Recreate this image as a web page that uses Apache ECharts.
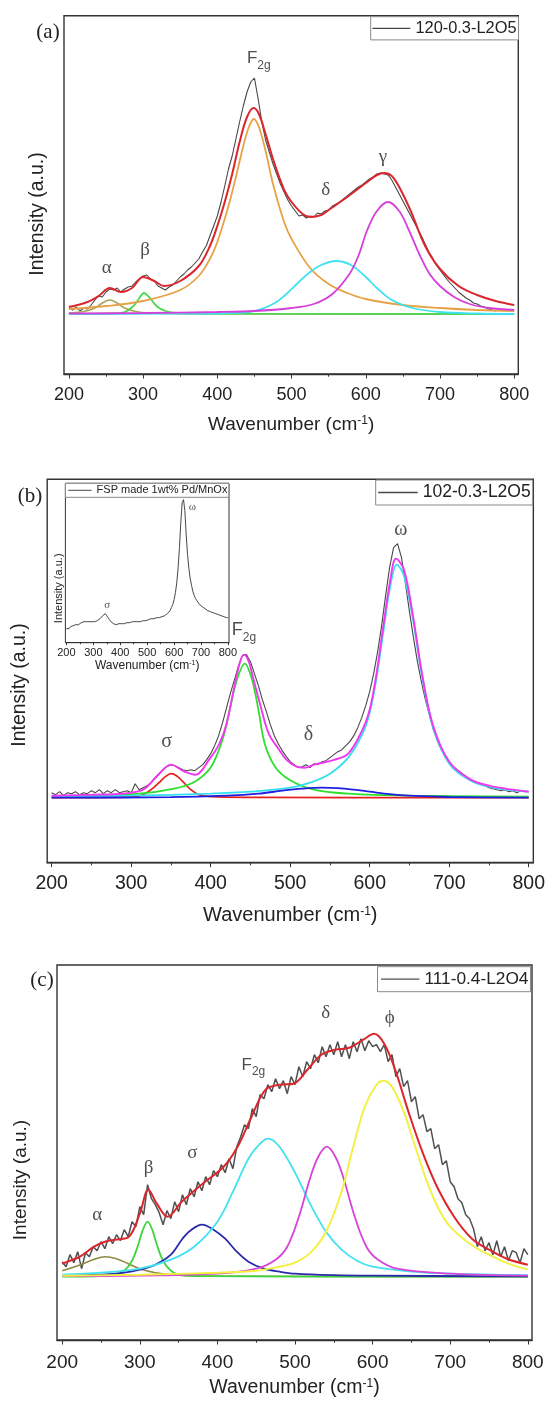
<!DOCTYPE html>
<html><head><meta charset="utf-8">
<script src="https://cdn.jsdelivr.net/npm/echarts@6/dist/echarts.min.js"></script>
<style>html,body{margin:0;padding:0;background:#fff}#c{width:548px;height:1404px}</style>
</head><body><div id="c"></div>
<script>
// ---------- ticks ----------
const majorTicks = [200, 300, 400, 500, 600, 700, 800];
const minorTicks = [250, 350, 450, 550, 650, 750];
const rawStart = 200, rawStep = 5;

// ---------- panel (a) ----------
const legendA = '120-0.3-L2O5';
const rawA = [6,4,7,3,6,5,9,14,18,17,22,25,24,26,22,25,27,28,32,35,38,39,35,33,28,26,24,27,29,33,37,40,44,47,51,55,62,68,78,88,98,112,128,145,158,175,192,208,222,232,236,215,192,174,162,150,140,130,122,114,108,103,98,99,96,98,97,101,100,103,104,108,110,112,115,118,121,124,127,129,132,135,137,140,141,140,139,134,127,120,113,106,99,92,85,78,70,62,56,49,44,39,34,30,26,22,19,16,14,11,10,8,7,5,4,3];
const fitA = [[200,7],[225,12],[240,18],[255,26],[270,22],[285,26],[300,37],[315,33],[328,28],[350,33],[375,48],[390,68],[400,88],[410,112],[420,140],[430,172],[440,197],[449,206],[456,200],[465,180],[475,155],[490,124],[500,112],[515,100],[525,97],[540,99],[550,104],[575,117],[600,131],[615,139],[625,141],[635,138],[645,127],[660,104],[680,68],[700,45],[725,28],[750,19],[775,13],[800,9]];
const orangeA = [[200,5],[250,8],[300,13],[350,24],[375,38],[390,55],[400,72],[415,108],[425,137],[435,168],[442,186],[449,195],[456,187],[465,163],[475,130],[490,92],[500,75],[525,46],[550,30],[575,21],[600,15],[650,9],[700,6],[750,4],[800,3]];
const cyanA = [[200,0],[350,0.3],[420,1],[450,3],[475,10],[490,18],[507,30],[525,42],[540,49],[560,53],[580,49],[600,37],[615,26],[635,14],[663,6],[700,2],[750,0.5],[800,0]];
const magentaA = [[200,0.5],[300,1],[400,2],[450,3],[500,6],[530,10],[555,20],[578,40],[590,58],[602,84],[615,103],[630,112],[645,103],[658,84],[672,60],[686,40],[700,28],[719,17],[740,10],[766,6],[800,4]];
const oliveA = [[200,1],[220,2.5],[235,6],[245,11],[255,14],[265,11],[275,6],[290,2.5],[310,1],[350,0.3],[800,0]];
const greenA = [[200,0],[260,0.5],[275,2],[287,8],[295,16],[301,21],[308,17],[318,8],[330,3],[345,1],[380,0.3],[800,0]];
const peaksA = [['α',251,46],['β',302.7,64],['{f|F}{s|2g}',455.8,255.7],['δ',546.2,124],['γ',623,157.3]];

// ---------- panel (b) ----------
const legendB = '102-0.3-L2O5';
const rawB = [5,3,6,2,5,4,6,3,5,4,7,5,8,4,7,5,8,5,6,7,5,14,8,10,12,15,20,24,28,31,33,32,30,28,27,28,27,30,33,38,44,52,62,75,90,105,118,132,142,143,136,124,112,98,86,73,62,54,47,41,36,33,30,31,33,30,34,33,36,37,40,43,46,48,52,56,62,70,80,92,106,124,146,172,202,230,250,254,240,214,186,160,136,116,98,83,68,57,48,42,36,31,28,25,22,19,17,15,13,12,10,9,8,7,8,6,7,5,7,6,6];
const fitB = [[200,2],[250,3],[289,4],[315,8],[332,21],[350,33],[367,26],[381,23],[398,38],[411,54],[420,74],[429,108],[437,136],[442,143],[448,136],[453,121],[462,94],[473,64],[486,48],[495,38],[508,31],[518,30],[530,33],[556,38],[573,44],[591,68],[600,88],[608,121],[617,171],[626,218],[633,239],[643,228],[654,184],[665,128],[679,74],[700,36],[727,18],[750,12],[771,9],[800,6]];
const greenB = [[200,1],[310,4],[354,9],[380,16],[398,28],[407,41],[416,61],[424,88],[433,118],[443,134],[452,118],[460,88],[468,54],[481,31],[499,18],[530,8],[573,4],[650,2],[800,1]];
const redB = [[200,0],[300,0.5],[315,3],[325,8],[335,15],[343,21],[350,24],[357,22],[365,16],[375,8],[385,3],[400,1],[450,0.3],[800,0]];
const blueB = [[200,0],[350,0.5],[420,2],[460,4],[490,7],[515,9],[540,10],[560,9.5],[580,8],[600,6],[625,3.5],[650,2],[700,0.7],[800,0]];
const cyanB = [[200,1],[300,2],[400,4],[450,6],[500,10],[525,15],[550,24],[573,40],[591,64],[600,85],[608,117],[617,165],[626,212],[634,233],[643,222],[654,180],[665,125],[679,72],[700,34],[727,17],[750,11],[771,8],[800,6]];
const peaksB = [['σ',344.6,56],['{f|F}{s|2g}',441.9,167.7],['δ',523,62.7],['ω',639,268.3]];

// ---------- inset of (b) ----------
const legendInset = 'FSP made 1wt% Pd/MnOx';
const rawInset = [14,15,14,16,16,17,17,18,19,18,19,20,19,21,20,21,22,21,22,21,22,21,22,22,23,24,25,27,28,29,27,25,23,21,20,19,19,18,18,19,18,19,18,19,19,20,19,20,20,21,20,21,21,21,22,21,22,22,23,22,22,23,23,24,23,24,24,25,24,25,25,26,26,27,28,29,30,32,35,38,43,50,60,75,95,120,140,143,132,108,88,74,64,57,51,47,44,42,40,38,37,36,35,34,33,32,32,31,30,30,29,29,28,28,27,27,26,26,25,25,25];
const peaksInset = [['σ',352,37.7],['ω',667.5,136]];

// ---------- panel (c) ----------
const legendC = '111-0.4-L2O4';
const rawC = [15,10,22,14,25,8,24,20,30,26,35,28,40,33,42,36,47,40,55,50,70,62,92,78,72,64,52,66,58,75,65,82,72,88,80,95,86,100,92,106,100,112,104,118,108,130,140,152,148,168,160,182,178,192,185,198,188,196,183,200,192,210,200,215,208,222,214,230,220,232,222,235,220,232,218,235,225,238,226,236,230,232,225,232,215,222,200,208,190,196,175,180,158,162,145,148,128,132,112,116,95,90,78,74,62,58,48,30,40,26,34,22,36,20,30,16,26,24,14,28,22];
const fitC = [[200,13],[210,16],[223,20],[241,30],[255,35],[268,37],[286,40],[300,63],[311,87],[322,73],[336,60],[354,75],[381,93],[408,110],[426,130],[444,160],[462,187],[480,192],[498,193],[516,207],[534,222],[552,227],[570,229],[588,237],[602,243],[615,233],[629,207],[647,163],[665,123],[683,90],[705,60],[728,38],[750,27],[773,18],[800,12]];
const oliveC = [[200,6],[220,11],[240,17],[255,20],[270,18],[285,13],[300,8],[320,4],[350,1.5],[400,0.5],[800,0]];
const greenC = [[200,0],[250,0.5],[270,2],[280,6],[290,16],[298,32],[304,47],[310,55],[316,47],[322,32],[330,16],[340,6],[350,2],[380,0.5],[800,0]];
const blueC = [[200,1],[250,2],[280,4],[300,7],[320,12],[340,22],[355,38],[365,46],[380,52],[395,47],[410,38],[425,25],[440,15],[460,8],[480,5],[500,3],[550,1.5],[600,1],[800,0.3]];
const cyanC = [[200,2],[250,4],[300,8],[340,17],[370,30],[400,55],[420,85],[440,118],[455,133],[465,138],[480,130],[500,104],[520,72],[540,45],[560,27],[580,16],[600,10],[650,5],[700,3],[800,1.5]];
const magentaC = [[200,0.5],[300,1],[400,3],[450,8],[475,17],[490,30],[505,60],[520,100],[530,120],[541,130],[552,120],[562,100],[577,60],[592,30],[607,17],[632,8],[700,3],[800,1]];
const yellowC = [[200,1],[300,2],[400,4],[450,6],[480,10],[500,14],[520,24],[540,45],[560,85],[575,130],[590,170],[605,192],[614,196],[625,190],[640,165],[655,130],[670,95],[685,68],[700,50],[725,33],[750,22],[775,13],[800,7]];
const peaksC = [['α',245,61.7],['β',311.3,108.3],['σ',367.6,124],['{f|F}{s|2g}',446.4,211.7],['δ',539.6,263.3],['ϕ',622,259]];

// ---------- build ----------
const SANS = '"Liberation Sans", Arial, sans-serif';
const SERIF = '"Liberation Serif", "Times New Roman", serif';
const INK = '#222';
const toXY = arr => arr.map((v, i) => [rawStart + i * rawStep, v]);

const panels = [
  {grid:{left:64, top:15.7, width:454.3, height:358.3}, x:[193.4,805.5], y:[-60,298.3], fs:18, margin:12, nameFs:19, nameGap:41, tick:4.5},
  {grid:{left:47.2, top:479.3, width:487.6, height:383.4}, x:[194.4,805.8], y:[-65,318.3], fs:19.5, margin:10.5, nameFs:20, nameGap:43, tick:4.5},
  {grid:{left:57, top:965, width:475, height:375}, x:[193.3,805.4], y:[-63.3,311.7], fs:19, margin:13.5, nameFs:19.5, nameGap:38, tick:4.5},
  {grid:{left:65.4, top:483.3, width:163.6, height:159.4}, x:[196.3,804], y:[0,159.3], fs:11, margin:5, nameFs:12, nameGap:17, tick:2.5, inset:true}
];

const grid = [], xAxis = [], yAxis = [];
panels.forEach((p, i) => {
  grid.push(Object.assign({show:true, borderColor:'#333', borderWidth: p.inset ? 1 : 1.4, backgroundColor: p.inset ? '#fff' : 'transparent', containLabel:false, z: p.inset ? 5 : 0}, p.grid));
  xAxis.push({
    type:'value', gridIndex:i, min:p.x[0], max:p.x[1], position:'bottom', z: p.inset ? 6 : 1,
    axisLine:{show:true, onZero:false, lineStyle:{color:'#333', width: p.inset ? 1 : 1.4}},
    axisTick:{show:true, customValues: majorTicks, length:p.tick, lineStyle:{color:'#333', width:1}},
    axisLabel:{show:true, customValues: majorTicks, fontSize:p.fs, fontFamily:SANS, color:INK, margin:p.margin},
    splitLine:{show:false},
    name:'Wavenumber (cm{sup|-1})', nameLocation:'middle', nameGap:p.nameGap,
    nameTextStyle:{fontSize:p.nameFs, fontFamily:SANS, color:INK,
      rich:{sup:{fontSize: Math.round(p.nameFs*0.62), fontFamily:SANS, color:INK, verticalAlign:'top', lineHeight: Math.round(p.nameFs*0.62)}}}
  });
  xAxis.push({
    type:'value', gridIndex:i, min:p.x[0], max:p.x[1], position:'bottom', z: p.inset ? 6 : 1,
    axisLine:{show:false, onZero:false},
    axisTick:{show:true, customValues: minorTicks, length:p.tick*0.6, lineStyle:{color:'#333', width:1}},
    axisLabel:{show:false}, splitLine:{show:false}
  });
  yAxis.push({type:'value', gridIndex:i, min:p.y[0], max:p.y[1], show:false});
});

const series = [];
function line(panel, name, data, color, width, smooth, z) {
  series.push({
    type:'line', name:name, xAxisIndex: panel*2, yAxisIndex: panel, data:data,
    symbol:'none', showSymbol:false, smooth: smooth ? 0.35 : false,
    lineStyle:{color:color, width:width}, itemStyle:{color:color},
    silent:true, animation:false, z: z
  });
}
function peakLabels(panel, arr, fs, fFs) {
  series.push({
    type:'scatter', xAxisIndex: panel*2, yAxisIndex: panel, symbolSize:0, silent:true, animation:false, z:20,
    data: arr.map(a => ({name:a[0], value:[a[1], a[2]]})),
    itemStyle:{color:'rgba(0,0,0,0)'},
    label:{show:true, position:'inside', formatter:'{b}', fontSize:fs, fontFamily:SERIF, color:INK,
      rich:{
        f:{fontSize:fFs, fontFamily:SANS, color:INK, lineHeight: Math.round(fFs*1.5), verticalAlign:'middle'},
        s:{fontSize: Math.round(fFs*0.68), fontFamily:SANS, color:INK, lineHeight: Math.round(fFs*0.68), verticalAlign:'bottom'}
      }}
  });
}

// panel a
line(0, legendA, toXY(rawA), '#474747', 1.1, false, 2);
line(0, 'olive a', oliveA, '#aaa456', 1.6, true, 3);
line(0, 'green a', greenA, '#4ed64e', 1.8, true, 3);
line(0, 'orange a', orangeA, '#e6a246', 1.8, true, 3);
line(0, 'cyan a', cyanA, '#3fe2ee', 1.8, true, 3);
line(0, 'magenta a', magentaA, '#d640da', 1.8, true, 3);
line(0, 'fit a', fitA, '#da262c', 2, true, 4);
peakLabels(0, peaksA, 19, 17);

// panel b
line(1, legendB, toXY(rawB), '#474747', 1.1, false, 2);
line(1, 'red b', redB, '#e82020', 1.7, true, 3);
line(1, 'green b', greenB, '#2ee02e', 1.8, true, 3);
line(1, 'cyan b', cyanB, '#34e0f0', 1.8, true, 3);
line(1, 'blue b', blueB, '#1f1fe0', 1.8, true, 3);
line(1, 'fit b', fitB, '#f038f0', 1.9, true, 4);
peakLabels(1, peaksB, 20, 18);

// panel c
line(2, legendC, toXY(rawC), '#505050', 1.5, false, 2);
line(2, 'olive c', oliveC, '#8e8a42', 1.6, true, 3);
line(2, 'green c', greenC, '#3ed43e', 1.8, true, 3);
line(2, 'blue c', blueC, '#2a2aaa', 1.8, true, 3);
line(2, 'cyan c', cyanC, '#40e2f0', 1.8, true, 3);
line(2, 'magenta c', magentaC, '#d844d8', 1.8, true, 3);
line(2, 'yellow c', yellowC, '#f2f040', 1.9, true, 3);
line(2, 'fit c', fitC, '#da262c', 2, true, 4);
peakLabels(2, peaksC, 19, 17);

// inset
line(3, legendInset, toXY(rawInset), '#474747', 1, false, 10);
peakLabels(3, peaksInset, 11, 11);
series[series.length-1].z = 21;

const legendBase = {orient:'horizontal', selectedMode:false, borderColor:'#888', borderWidth:1, backgroundColor:'#fff', itemGap:0, icon:'rect'};
const legend = [
  Object.assign({}, legendBase, {data:[legendA], left:370.7, top:16.7, itemWidth:38, itemHeight:1.3, padding:[3.6,2,3.6,1.7], textStyle:{fontSize:16.4, fontFamily:SANS, color:INK}}),
  Object.assign({}, legendBase, {data:[legendB], left:375.7, top:480, itemWidth:39.5, itemHeight:1.3, padding:[3.5,2,3.5,2.5], textStyle:{fontSize:17.5, fontFamily:SANS, color:INK}}),
  Object.assign({}, legendBase, {data:[legendC], left:377.5, top:966.7, itemWidth:38.4, itemHeight:1.3, padding:[4,2,4,3.5], textStyle:{fontSize:17.3, fontFamily:SANS, color:INK}}),
  Object.assign({}, legendBase, {data:[legendInset], left:65.4, top:483.3, itemWidth:23.4, itemHeight:1, padding:[1.5,1.4,1.5,2.8], z:12, textStyle:{fontSize:11, fontFamily:SANS, color:INK}})
];

function vtext(x, y, text, fs, z) {
  return {type:'text', x:x, y:y, rotation:Math.PI/2, z: z || 10,
    style:{text:text, fontSize:fs, fontFamily:SANS, fill:INK, textAlign:'center', textVerticalAlign:'middle', align:'center', verticalAlign:'middle'}};
}
function ptext(x, y, text) {
  return {type:'text', x:x, y:y, z:10,
    style:{text:text, fontSize:21, fontFamily:SERIF, fill:INK, textAlign:'center', textVerticalAlign:'middle', align:'center', verticalAlign:'middle'}};
}
const graphic = [
  vtext(37.5, 214, 'Intensity (a.u.)', 19.5),
  vtext(20, 685, 'Intensity (a.u.)', 19.5),
  vtext(21, 1180, 'Intensity (a.u.)', 19),
  vtext(58.7, 588.3, 'Intensity (a.u.)', 11, 30),
  ptext(48, 32, '(a)'),
  ptext(30, 496, '(b)'),
  ptext(42, 980, '(c)')
];

const chart = echarts.init(document.getElementById('c'), null, {renderer:'canvas'});
chart.setOption({animation:false, backgroundColor:'#fff', grid, xAxis, yAxis, series, legend, graphic});
</script>
</body></html>
